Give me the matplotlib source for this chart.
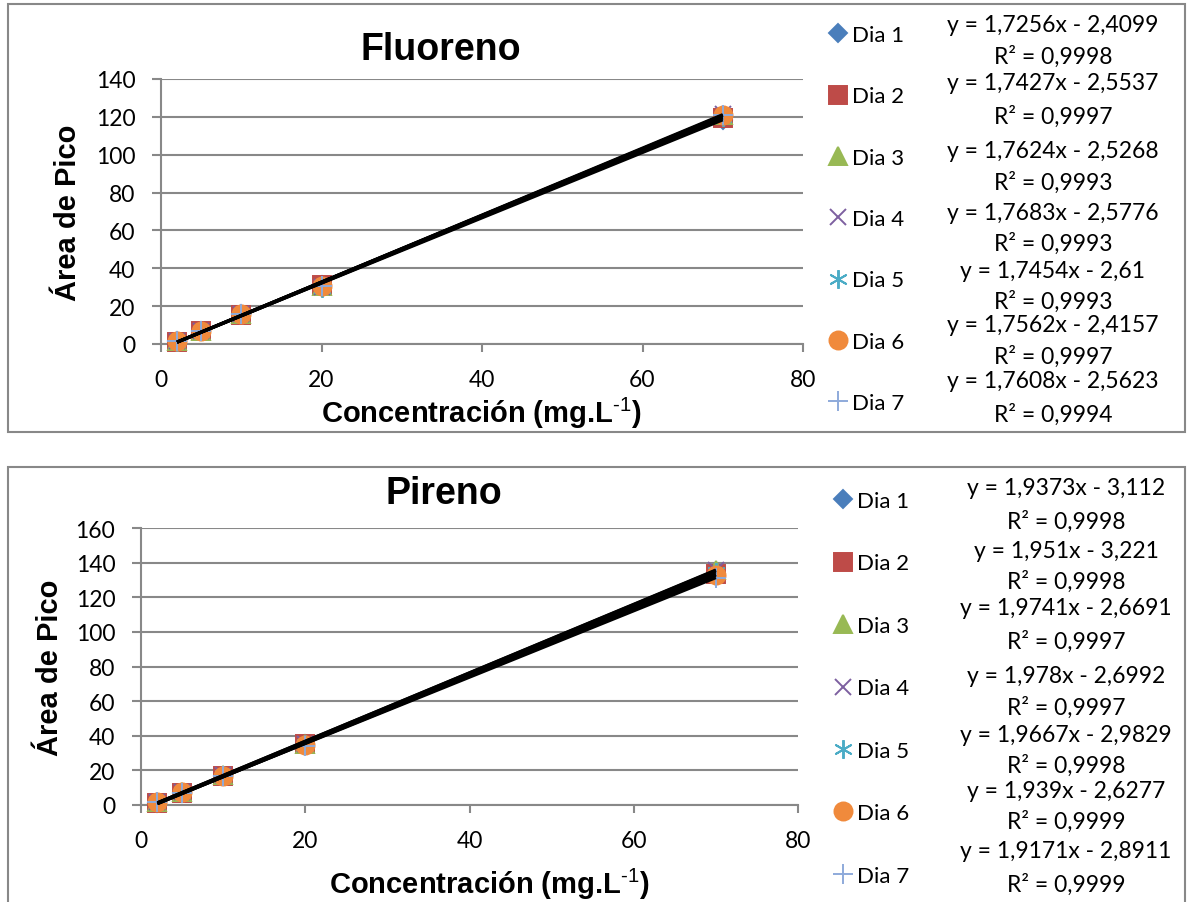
import matplotlib
matplotlib.use('Agg')
import matplotlib.pyplot as plt
from matplotlib.patches import Rectangle
import numpy as np

W, H = 1188, 903

conc = [2, 5, 10, 20, 70]
days = ['Dia 1', 'Dia 2', 'Dia 3', 'Dia 4', 'Dia 5', 'Dia 6', 'Dia 7']

# areas (points mostly overlap)
fluoreno = [
    [1.4, 6.8, 15.6, 31.0, 118.5],
    [1.3, 6.7, 15.5, 31.2, 119.6],
    [1.6, 6.9, 15.8, 30.4, 120.9],
    [1.6, 7.0, 15.9, 30.3, 121.3],
    [1.3, 6.7, 15.6, 29.8, 119.7],
    [1.5, 6.9, 15.9, 30.6, 120.8],
    [1.4, 6.8, 15.7, 30.4, 120.9],
]
pireno = [
    [1.4, 7.2, 16.9, 35.0, 132.5],
    [1.4, 7.1, 16.9, 35.2, 133.4],
    [1.8, 7.6, 17.6, 35.2, 135.6],
    [1.8, 7.6, 17.6, 35.3, 135.8],
    [1.6, 7.4, 17.3, 35.3, 134.8],
    [1.6, 7.3, 17.0, 34.6, 133.1],
    [1.5, 7.0, 16.8, 34.2, 131.4],
]

# trendline labels
flu_slope = [1.7256, 1.7427, 1.7624, 1.7683, 1.7454, 1.7562, 1.7608]
flu_icpt = [-2.4099, -2.5537, -2.5268, -2.5776, -2.61, -2.4157, -2.5623]
flu_r2 = [0.9998, 0.9997, 0.9993, 0.9993, 0.9993, 0.9997, 0.9994]
pir_slope = [1.9373, 1.951, 1.9741, 1.978, 1.9667, 1.939, 1.9171]
pir_icpt = [-3.112, -3.221, -2.6691, -2.6992, -2.9829, -2.6277, -2.8911]
pir_r2 = [0.9998, 0.9998, 0.9997, 0.9997, 0.9998, 0.9999, 0.9999]

markers = ['D', 's', '^', 'x', (6, 2, 0), 'o', '+']
colors = ['#4A7EBB', '#BE4B48', '#98B954', '#7D60A0', '#4BACC6', '#F08A3C', '#8EAADB']
msizes = [9, 12.5, 13, 11, 13.5, 13, 14]

GRID = '#888888'
SANS = 'Lato'
BOLD = 'Liberation Sans'

plt.rcParams['mathtext.fontset'] = 'custom'
plt.rcParams['mathtext.rm'] = 'Liberation Sans'


def px(x, y):
    return x / W, 1 - y / H


def num(v):
    s = format(v, '.4f').rstrip('0').rstrip('.')
    return s.replace('.', ',')


fig = plt.figure(figsize=(W / 100, H / 100), dpi=100)

panels = [
    dict(name='Fluoreno', data=fluoreno, slope=flu_slope, icpt=flu_icpt, r2=flu_r2,
         box=(8, 5, 1185, 433), ax=(161, 80, 803, 345), ymax=140,
         title=(441, 50), ylab=(68, 213), xlab=(481, 413),
         leg=(829, 26), legsp=1.86,
         eqx=1053, eqy=[25, 84, 152, 213, 272, 325, 382],
         r2y=[57, 117, 183, 244, 302, 357, 415]),
    dict(name='Pireno', data=pireno, slope=pir_slope, icpt=pir_icpt, r2=pir_r2,
         box=(8, 468, 1185, 910), ax=(141, 529, 798, 806), ymax=160,
         title=(444, 494), ylab=(50, 668), xlab=(489, 884),
         leg=(834, 492), legsp=1.91,
         eqx=1066, eqy=[489, 552, 609, 677, 736, 792, 852],
         r2y=[522, 582, 642, 708, 766, 822, 885]),
]

for p in panels:
    x0, y0, x1, y1 = p['box']
    fig.add_artist(Rectangle(px(x0, y1), (x1 - x0) / W, (y1 - y0) / H,
                             transform=fig.transFigure, fill=False,
                             edgecolor=GRID, linewidth=1.5))

    l, t, r, b = p['ax']
    ax = fig.add_axes([l / W, 1 - b / H, (r - l) / W, (b - t) / H])
    ax.set_xlim(0, 80)
    ax.set_ylim(0, p['ymax'])
    ax.set_xticks(range(0, 81, 20))
    ax.set_yticks(range(0, p['ymax'] + 1, 20))
    ax.grid(axis='y', color=GRID, linewidth=1.5)
    ax.set_axisbelow(True)
    for s in ['top', 'right']:
        ax.spines[s].set_visible(False)
    for s in ['left', 'bottom']:
        ax.spines[s].set_color(GRID)
        ax.spines[s].set_linewidth(1.5)
    ax.tick_params(axis='y', length=6.5, width=1.5, color=GRID, pad=12,
                   labelsize=16.5)
    ax.tick_params(axis='x', length=6, width=1.5, color=GRID, pad=12,
                   labelsize=16.5)
    for lab in ax.get_xticklabels() + ax.get_yticklabels():
        lab.set_fontfamily(SANS)

    handles = []
    for i, d in enumerate(days):
        h, = ax.plot(conc, p['data'][i], ls='none', marker=markers[i],
                     ms=msizes[i], color=colors[i], mec=colors[i],
                     mew=1.4, label=d, clip_on=False, zorder=3)
        handles.append(h)
    xs = np.array([conc[0], conc[-1]])
    for i in range(len(days)):
        ax.plot(xs, p['slope'][i] * xs + p['icpt'][i], color='black',
                lw=2.2, zorder=4, solid_capstyle='butt')

    ax.legend(handles=handles, loc='upper left',
              bbox_to_anchor=px(*p['leg']), bbox_transform=fig.transFigure,
              frameon=False, prop={'family': SANS, 'size': 16},
              handlelength=0.8, handletextpad=0.25, borderpad=0,
              borderaxespad=0, labelspacing=p['legsp'], numpoints=1)

    fig.text(*px(*p['title']), p['name'], family=BOLD, weight='bold',
             size=27, ha='center', va='center')
    fig.text(*px(*p['ylab']), 'Área de Pico', family=BOLD, weight='bold',
             size=21, rotation=90, ha='center', va='center')
    fig.text(*px(*p['xlab']), r'Concentración (mg.L$^{\text{-1}}$)',
             family=BOLD, weight='bold', size=21, ha='center', va='center')

    for i in range(len(days)):
        eq = 'y = %sx - %s' % (num(p['slope'][i]), num(-p['icpt'][i]))
        fig.text(*px(p['eqx'], p['eqy'][i]), eq, family=SANS, size=16.5,
                 ha='center', va='center')
        fig.text(*px(p['eqx'], p['r2y'][i]), 'R² = ' + num(p['r2'][i]),
                 family=SANS, size=16.5, ha='center', va='center')

fig.savefig('out.png', dpi=100)
